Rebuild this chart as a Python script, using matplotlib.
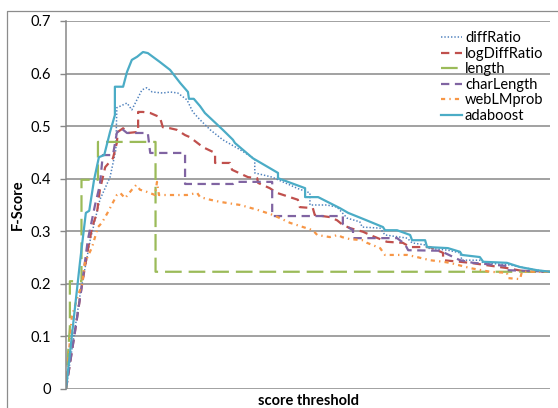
import matplotlib
matplotlib.use("Agg")
import matplotlib.pyplot as plt
from matplotlib.lines import Line2D

plt.rcParams["font.family"] = ["Lato", "DejaVu Sans"]
plt.rcParams["lines.scale_dashes"] = False

# (threshold position 0-100, F-score)
diff_ratio = [(0, 0), (2.9, 0.179), (5.0, 0.283), (7.0, 0.360), (9.1, 0.403), (10.3, 0.455),
              (10.5, 0.535), (12.6, 0.544), (13.6, 0.531), (15.7, 0.569), (16.7, 0.573),
              (17.8, 0.565), (20.0, 0.563), (21.5, 0.565), (23.1, 0.563), (25.0, 0.550),
              (26.2, 0.527), (27.7, 0.512), (29.8, 0.493), (32.4, 0.474), (36.0, 0.455),
              (38.4, 0.441), (39.0, 0.436), (39.0, 0.411), (42.6, 0.403), (43.8, 0.398),
              (46.3, 0.388), (47.7, 0.382), (50.4, 0.373), (50.4, 0.350), (53.9, 0.350),
              (56.0, 0.346), (58.1, 0.325), (60.7, 0.318), (61.2, 0.308), (64.9, 0.306),
              (65.9, 0.293), (70.5, 0.287), (71.5, 0.278), (74.2, 0.274), (74.6, 0.268),
              (78.9, 0.264), (81.4, 0.259), (81.8, 0.245), (85.5, 0.245), (86.2, 0.240),
              (91.7, 0.236), (97.3, 0.226), (100, 0.223)]

log_diff_ratio = [(0, 0), (1.9, 0.112), (3.3, 0.198), (4.5, 0.264), (5.4, 0.308), (6.4, 0.335),
                  (7.0, 0.379), (8.1, 0.422), (9.7, 0.439), (10.5, 0.468), (10.7, 0.489),
                  (11.8, 0.496), (12.8, 0.487), (14.9, 0.489), (14.9, 0.527), (15.9, 0.527),
                  (17.4, 0.525), (19.4, 0.517), (20.0, 0.498), (21.5, 0.496), (22.9, 0.493),
                  (24.6, 0.483), (25.6, 0.479), (28.3, 0.460), (30.8, 0.449), (30.8, 0.430),
                  (33.9, 0.430), (34.3, 0.417), (37.6, 0.403), (39.5, 0.401), (39.7, 0.392),
                  (42.1, 0.382), (43.6, 0.373), (47.9, 0.360), (48.3, 0.346), (51.0, 0.344),
                  (51.4, 0.331), (54.5, 0.327), (56.0, 0.321), (57.2, 0.312), (58.7, 0.306),
                  (61.4, 0.299), (62.8, 0.293), (66.3, 0.280), (69.6, 0.278), (71.1, 0.270),
                  (75.2, 0.270), (77.9, 0.259), (77.9, 0.245), (81.4, 0.242), (83.5, 0.240),
                  (91.1, 0.230), (95.2, 0.223), (100, 0.223)]

length = [(0, 0), (0.4, 0.065), (0.8, 0.118), (0.8, 0.205), (3.2, 0.205), (3.2, 0.398),
          (6.6, 0.398), (6.6, 0.470), (18.5, 0.470), (18.5, 0.223), (100, 0.223)]

char_length = [(0, 0), (1.9, 0.112), (3.3, 0.198), (4.5, 0.283), (6.0, 0.350), (7.0, 0.388),
               (7.6, 0.445), (9.7, 0.445), (10.5, 0.487), (11.4, 0.496), (12.6, 0.487),
               (16.9, 0.487), (17.4, 0.449), (24.6, 0.449), (24.6, 0.390), (34.5, 0.390),
               (35.1, 0.394), (42.6, 0.394), (42.6, 0.329), (57.2, 0.329), (57.2, 0.314),
               (59.3, 0.302), (59.3, 0.287), (68.4, 0.287), (70.0, 0.276), (70.7, 0.264),
               (77.3, 0.263), (81.4, 0.245), (84.1, 0.240), (91.1, 0.234), (91.1, 0.226),
               (97.3, 0.224), (100, 0.223)]

web_lm_prob = [(0, 0), (1.2, 0.137), (2.5, 0.179), (3.3, 0.198), (3.9, 0.240), (5.4, 0.270),
               (6.6, 0.308), (7.4, 0.316), (8.7, 0.337), (10.5, 0.369), (11.2, 0.373),
               (12.2, 0.363), (13.6, 0.379), (14.5, 0.388), (15.3, 0.379), (16.7, 0.375),
               (18.4, 0.369), (18.8, 0.394), (19.2, 0.369), (22.1, 0.369), (25.0, 0.369),
               (27.1, 0.373), (27.7, 0.365), (29.8, 0.360), (31.8, 0.356), (36.0, 0.350),
               (39.5, 0.341), (42.8, 0.331), (46.3, 0.316), (49.0, 0.308), (51.0, 0.302),
               (51.9, 0.293), (54.5, 0.289), (56.2, 0.293), (57.0, 0.289), (58.7, 0.285),
               (61.4, 0.283), (62.2, 0.278), (64.9, 0.268), (65.9, 0.255), (70.5, 0.255),
               (72.5, 0.251), (75.2, 0.245), (77.9, 0.242), (79.3, 0.240), (83.5, 0.230),
               (87.6, 0.223), (91.1, 0.221), (91.3, 0.211), (93.8, 0.209), (94.2, 0.223),
               (100, 0.223)]

adaboost = [(0, 0), (2.9, 0.242), (4.1, 0.335), (4.8, 0.339), (5.8, 0.398), (6.8, 0.441),
            (7.9, 0.445), (9.1, 0.489), (10.1, 0.521), (10.1, 0.575), (11.8, 0.575),
            (12.6, 0.603), (13.6, 0.626), (14.7, 0.632), (15.9, 0.641), (16.9, 0.639),
            (19.4, 0.622), (21.5, 0.607), (23.6, 0.582), (25.2, 0.565), (25.4, 0.552),
            (26.4, 0.552), (27.7, 0.538), (28.7, 0.525), (32.4, 0.493), (34.5, 0.474),
            (34.9, 0.468), (38.6, 0.439), (43.8, 0.411), (43.8, 0.401), (49.4, 0.382),
            (49.4, 0.365), (52.1, 0.365), (56.6, 0.344), (58.3, 0.335), (61.8, 0.322),
            (65.5, 0.308), (65.9, 0.302), (68.4, 0.302), (71.1, 0.293), (71.5, 0.283),
            (74.2, 0.283), (74.6, 0.270), (78.9, 0.268), (81.4, 0.261), (81.8, 0.255),
            (85.5, 0.251), (86.2, 0.242), (91.1, 0.240), (93.8, 0.232), (97.3, 0.226),
            (100, 0.223)]

y_ticks = [0, 0.1, 0.2, 0.3, 0.4, 0.5, 0.6, 0.7]
y_tick_labels = ["0", "0.1", "0.2", "0.3", "0.4", "0.5", "0.6", "0.7"]

series = [
    ("diffRatio", diff_ratio, "#4F81BD", (0, (1, 1.4)), 1.1),
    ("logDiffRatio", log_diff_ratio, "#C0504D", (0, (6, 4)), 1.6),
    ("length", length, "#9BBB59", (0, (12, 5)), 1.6),
    ("charLength", char_length, "#8064A2", (0, (6, 4)), 1.6),
    ("webLMprob", web_lm_prob, "#F79646", (0, (3, 3, 1, 3)), 1.6),
    ("adaboost", adaboost, "#4BACC6", "-", 1.6),
]

fig = plt.figure(figsize=(5.58, 4.08), dpi=100)
ax = fig.add_axes([66 / 558, 1 - 389 / 408, 484 / 558, 368 / 408])

for label, pts, color, ls, lw in series:
    xs, ys = zip(*pts)
    ax.plot(xs, ys, color=color, linestyle=ls, linewidth=lw, label=label)

ax.set_xlim(0, 100)
ax.set_ylim(0, 0.7)
ax.set_xticks([])
ax.set_yticks(y_ticks)
ax.set_yticklabels(y_tick_labels)
ax.tick_params(axis="y", length=4.5, width=1, color="#878787", pad=6, labelsize=10.5)
ax.grid(axis="y", color="#878787", linewidth=1.1)
ax.set_axisbelow(True)
for side in ("top", "right", "bottom"):
    ax.spines[side].set_visible(False)
ax.spines["left"].set_color("#878787")
ax.spines["left"].set_linewidth(1.1)

fig.legend(loc="upper left", bbox_to_anchor=(0.79, 0.923), frameon=False,
           fontsize=10.5, handlelength=1.45, handletextpad=0.2,
           labelspacing=0.1, borderpad=0, borderaxespad=0)

fig.text(18 / 558, 1 - 205 / 408, "F-Score", rotation=90, ha="center", va="center",
         fontweight="bold", fontsize=10.5)
fig.text(308 / 558, 0.008, "score threshold", ha="center", va="baseline",
         fontweight="bold", fontsize=10.5)

# outer chart frame (top and left edges visible in the reference)
fig.add_artist(Line2D([7 / 558, 7 / 558, 1], [0, 1 - 11 / 408, 1 - 11 / 408],
                      transform=fig.transFigure, color="#8c8c8c", linewidth=0.9))

fig.savefig("out.png", dpi=100)
